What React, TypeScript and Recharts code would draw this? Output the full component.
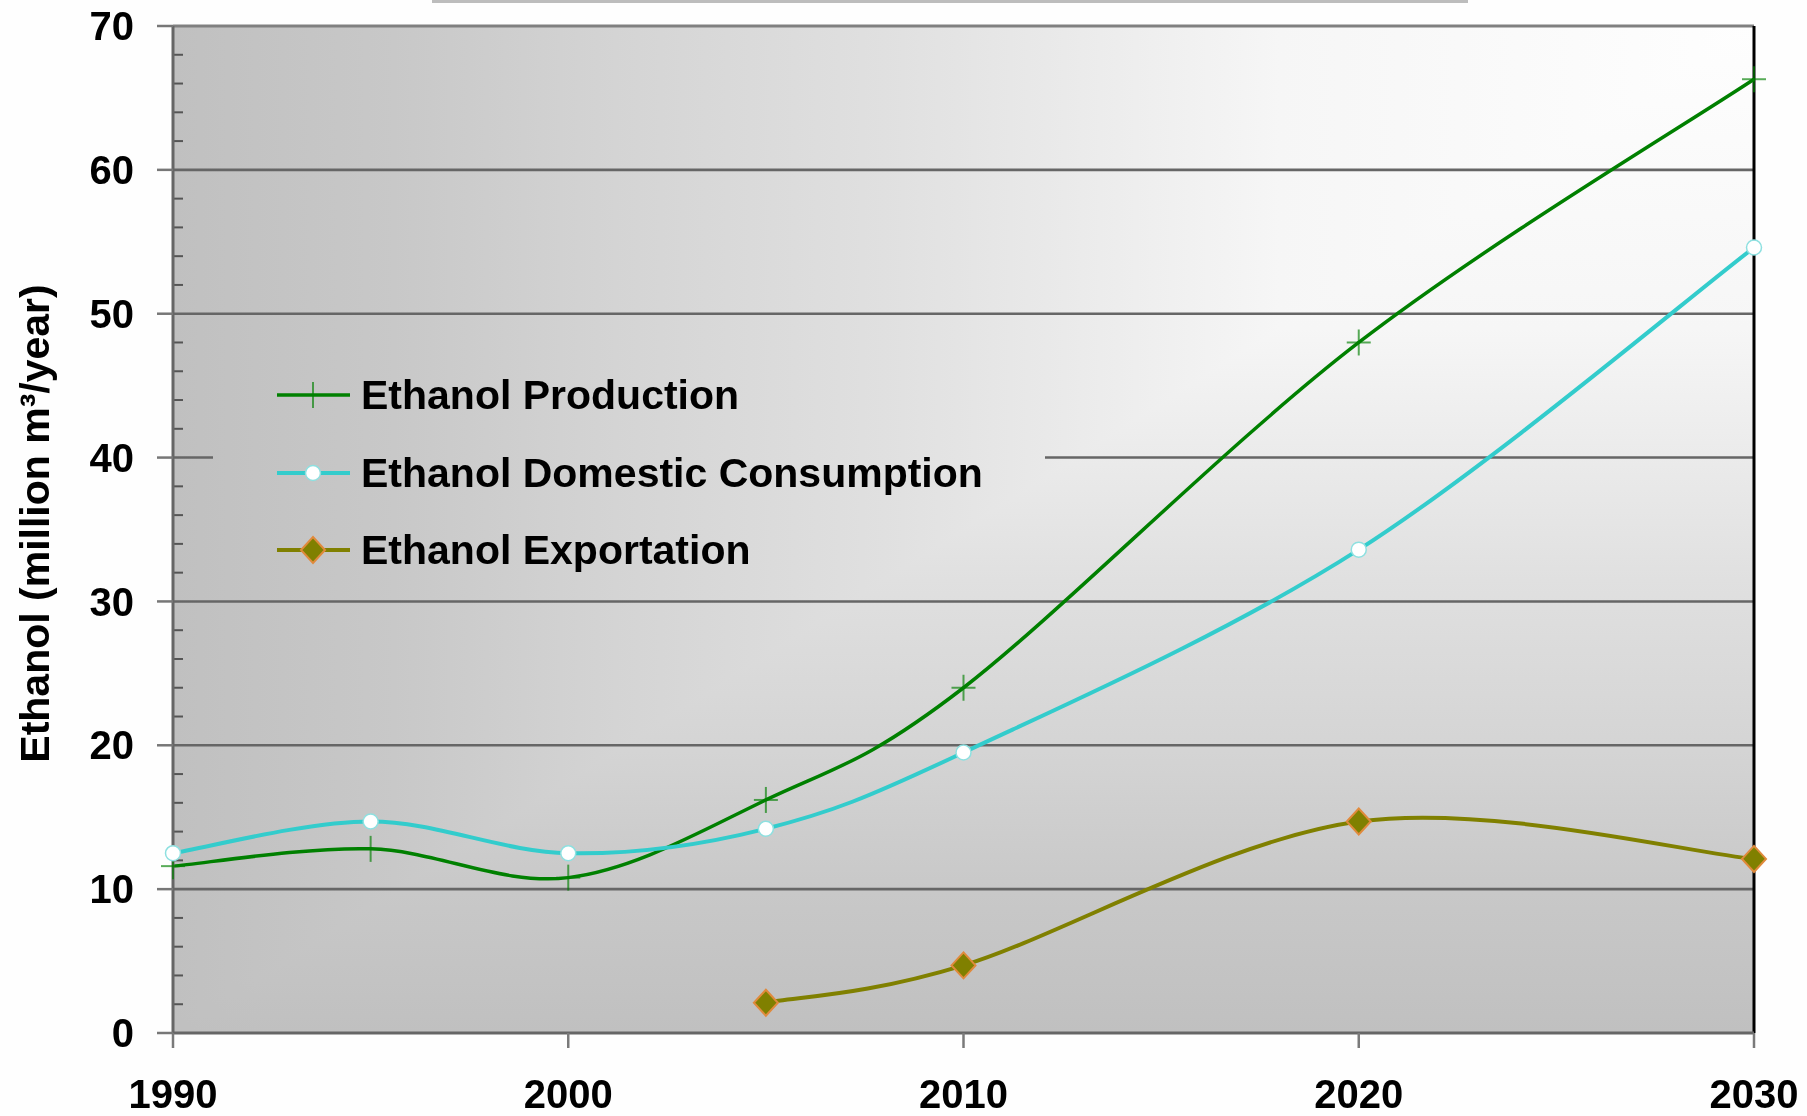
import {
  LineChart,
  Line,
  XAxis,
  YAxis,
  ReferenceArea,
  ReferenceLine,
  Legend,
} from "recharts";

// Ethanol outlook, million m3 per year
const YEARS = [1990, 1995, 2000, 2005, 2010, 2020, 2030];
const PRODUCTION = [11.6, 12.8, 10.8, 16.2, 24.0, 48.0, 66.3];
const CONSUMPTION = [12.5, 14.7, 12.5, 14.2, 19.5, 33.6, 54.6];
const EXPORTATION: (number | null)[] = [null, null, null, 2.1, 4.7, 14.7, 12.1];

const X_TICKS = [1990, 2000, 2010, 2020, 2030];
const Y_TICKS = [0, 10, 20, 30, 40, 50, 60, 70];
const Y_MINOR = [2, 4, 6, 8, 12, 14, 16, 18, 22, 24, 26, 28, 32, 34, 36, 38, 42, 44, 46, 48, 52, 54, 56, 58, 62, 64, 66, 68];

const WIDTH = 1807;
const HEIGHT = 1116;
const PLOT = { left: 173, top: 26, right: 1754, bottom: 1033 };
const PLOT_W = PLOT.right - PLOT.left;
const PLOT_H = PLOT.bottom - PLOT.top;

const FONT = '"Liberation Sans", Arial, Helvetica, sans-serif';

const GREEN = "#008000";
const CYAN = "#33cccc";
const OLIVE = "#808000";

const chartData = YEARS.map((year, i) => ({
  year,
  production: PRODUCTION[i],
  consumption: CONSUMPTION[i],
  exportation: EXPORTATION[i],
}));

// "from corner" fill: white at the top-right, grey towards the left and bottom edges
const FADE = [
  ["0%", "#fefefe"],
  ["30%", "#f6f6f6"],
  ["55%", "#e0e0e0"],
  ["72%", "#d4d4d4"],
  ["86%", "#c8c8c8"],
  ["100%", "#c0c0c0"],
];
const cssFade = (dir: string) =>
  `linear-gradient(${dir}, ${FADE.map(([o, c]) => `${c} ${o}`).join(", ")})`;

// smoothed line through every point, bezier handles from neighbours / 6
function smoothCurve(context: any) {
  let pts: number[][] = [];
  return {
    areaStart() {},
    areaEnd() {},
    lineStart() {
      pts = [];
    },
    point(x: number, y: number) {
      pts.push([+x, +y]);
    },
    lineEnd() {
      if (!pts.length) return;
      context.moveTo(pts[0][0], pts[0][1]);
      for (let i = 0; i < pts.length - 1; i++) {
        const p0 = pts[i - 1] ?? pts[i];
        const p1 = pts[i];
        const p2 = pts[i + 1];
        const p3 = pts[i + 2] ?? p2;
        context.bezierCurveTo(
          p1[0] + (p2[0] - p0[0]) / 6,
          p1[1] + (p2[1] - p0[1]) / 6,
          p2[0] - (p3[0] - p1[0]) / 6,
          p2[1] - (p3[1] - p1[1]) / 6,
          p2[0],
          p2[1]
        );
      }
    },
  };
}

const PlusMark = ({ cx, cy }: { cx: number; cy: number }) => (
  <g stroke={GREEN} strokeOpacity={0.65} strokeWidth={2}>
    <line x1={cx - 12} x2={cx + 12} y1={cy} y2={cy} />
    <line x1={cx} x2={cx} y1={cy - 13} y2={cy + 13} />
  </g>
);

const CircleMark = ({ cx, cy }: { cx: number; cy: number }) => (
  <circle cx={cx} cy={cy} r={7.5} fill="#ffffff" stroke="#8ee0e0" strokeWidth={1.5} />
);

const DiamondMark = ({ cx, cy }: { cx: number; cy: number }) => (
  <path
    d={`M${cx},${cy - 13}L${cx + 12},${cy}L${cx},${cy + 13}L${cx - 12},${cy}Z`}
    fill={OLIVE}
    stroke="#e08a3c"
    strokeWidth={2}
  />
);

const dotRenderer = (Mark: any, id: string) => (props: any) => {
  const { cx, cy, index } = props;
  if (cx == null || cy == null || props.value == null) return <g key={`${id}-${index}`} />;
  return (
    <g key={`${id}-${index}`}>
      <Mark cx={cx} cy={cy} />
    </g>
  );
};

const SERIES = [
  { key: "production", name: "Ethanol Production", color: GREEN, width: 3.5, Mark: PlusMark },
  { key: "consumption", name: "Ethanol Domestic Consumption", color: CYAN, width: 4, Mark: CircleMark },
  { key: "exportation", name: "Ethanol Exportation", color: OLIVE, width: 4, Mark: DiamondMark },
];

const PlotBackground = (props: any) => {
  const { x, y, width, height } = props;
  return (
    <g>
      <rect x={x} y={y} width={width} height={height} fill="url(#fadeFromRight)" />
      <rect
        x={x}
        y={y}
        width={width}
        height={height}
        fill="url(#fadeFromTop)"
        style={{ mixBlendMode: "darken" }}
      />
    </g>
  );
};

// short inward tick at the left edge of the plot
const MinorTick = (props: any) => {
  const { x1, y1 } = props;
  if (x1 == null || y1 == null) return <g />;
  return <line x1={x1} x2={x1 + 10} y1={y1} y2={y1} stroke="#555" strokeWidth={2} />;
};

const LegendBox = () => (
  <div
    style={{
      position: "relative",
      width: 832,
      height: 240,
      backgroundImage: `${cssFade("to left")}, ${cssFade("to bottom")}`,
      backgroundBlendMode: "darken",
      backgroundAttachment: "fixed",
      backgroundRepeat: "no-repeat",
      backgroundSize: `${PLOT_W}px ${PLOT_H}px`,
      backgroundPosition: `${PLOT.left}px ${PLOT.top}px`,
    }}
  >
    {SERIES.map((s, i) => (
      <div
        key={s.key}
        style={{
          position: "absolute",
          left: 0,
          top: 30 + i * 77.5,
          height: 50,
          display: "flex",
          alignItems: "center",
          whiteSpace: "nowrap",
        }}
      >
        <svg width={148} height={50} style={{ display: "block" }}>
          <line x1={64} x2={137} y1={25} y2={25} stroke={s.color} strokeWidth={s.width} />
          <s.Mark cx={100} cy={25} />
        </svg>
        <span
          style={{
            fontFamily: FONT,
            fontWeight: 700,
            fontSize: 41,
            lineHeight: "50px",
            color: "#000",
          }}
        >
          {s.name}
        </span>
      </div>
    ))}
  </div>
);

const YLabel = (props: any) => {
  const vb = props.viewBox;
  const cx = vb.x + 35;
  const cy = vb.y + vb.height / 2 - 6;
  return (
    <text
      x={cx}
      y={cy}
      transform={`rotate(-90, ${cx}, ${cy})`}
      textAnchor="middle"
      dominantBaseline="central"
      fontFamily={FONT}
      fontWeight={700}
      fontSize={41}
      fill="#000"
    >
      Ethanol (million m³/year)
    </text>
  );
};

const tickStyle = { fontFamily: FONT, fontWeight: 700, fontSize: 40, fill: "#000" };

export default function App() {
  return (
    <div
      style={{
        position: "absolute",
        left: 0,
        top: 0,
        width: WIDTH,
        height: HEIGHT,
        background: "#fefefe",
        overflow: "hidden",
      }}
    >
      <div
        style={{
          position: "absolute",
          left: 432,
          top: 0,
          width: 1036,
          height: 3,
          background: "#bdbdbd",
        }}
      />
      <LineChart
        width={WIDTH}
        height={HEIGHT}
        data={chartData}
        margin={{ top: PLOT.top, right: WIDTH - PLOT.right, bottom: 0, left: 0 }}
      >
        <defs>
          <linearGradient id="fadeFromRight" x1="1" y1="0" x2="0" y2="0">
            {FADE.map(([o, c]) => (
              <stop key={o} offset={o} stopColor={c} />
            ))}
          </linearGradient>
          <linearGradient id="fadeFromTop" x1="0" y1="0" x2="0" y2="1">
            {FADE.map(([o, c]) => (
              <stop key={o} offset={o} stopColor={c} />
            ))}
          </linearGradient>
        </defs>
        <ReferenceArea
          x1={1990}
          x2={2030}
          y1={0}
          y2={70}
          shape={PlotBackground}
          isFront={false}
        />
        {Y_TICKS.filter((v) => v > 0).map((v) => (
          <ReferenceLine
            key={`grid-${v}`}
            y={v}
            stroke={v === 70 ? "#808080" : "#666"}
            strokeWidth={v === 70 ? 3 : 2.6}
          />
        ))}
        {Y_MINOR.map((v) => (
          <ReferenceLine key={`minor-${v}`} y={v} shape={MinorTick} />
        ))}
        <XAxis
          dataKey="year"
          type="number"
          domain={[1990, 2030]}
          ticks={X_TICKS}
          interval={0}
          height={HEIGHT - PLOT.bottom}
          tickSize={15}
          tickMargin={32}
          axisLine={{ stroke: "#666", strokeWidth: 3 }}
          tickLine={{ stroke: "#7a7a7a", strokeWidth: 2.5 }}
          tick={tickStyle}
        />
        <YAxis
          domain={[0, 70]}
          ticks={Y_TICKS}
          interval={0}
          width={PLOT.left}
          tickSize={16}
          tickMargin={23}
          axisLine={{ stroke: "#666", strokeWidth: 3 }}
          tickLine={{ stroke: "#777", strokeWidth: 2.5 }}
          tick={tickStyle}
          label={{ content: YLabel }}
        />
        <ReferenceLine x={2030} stroke="#000" strokeWidth={3} />
        <Legend
          layout="vertical"
          align="center"
          verticalAlign="middle"
          content={LegendBox}
          wrapperStyle={{ left: 213, top: 340, width: 832, height: 240 }}
        />
        {SERIES.map((s) => (
          <Line
            key={s.key}
            dataKey={s.key}
            name={s.name}
            type={smoothCurve as any}
            stroke={s.color}
            strokeWidth={s.width}
            dot={dotRenderer(s.Mark, s.key)}
            activeDot={false}
            isAnimationActive={false}
          />
        ))}
      </LineChart>
    </div>
  );
}
